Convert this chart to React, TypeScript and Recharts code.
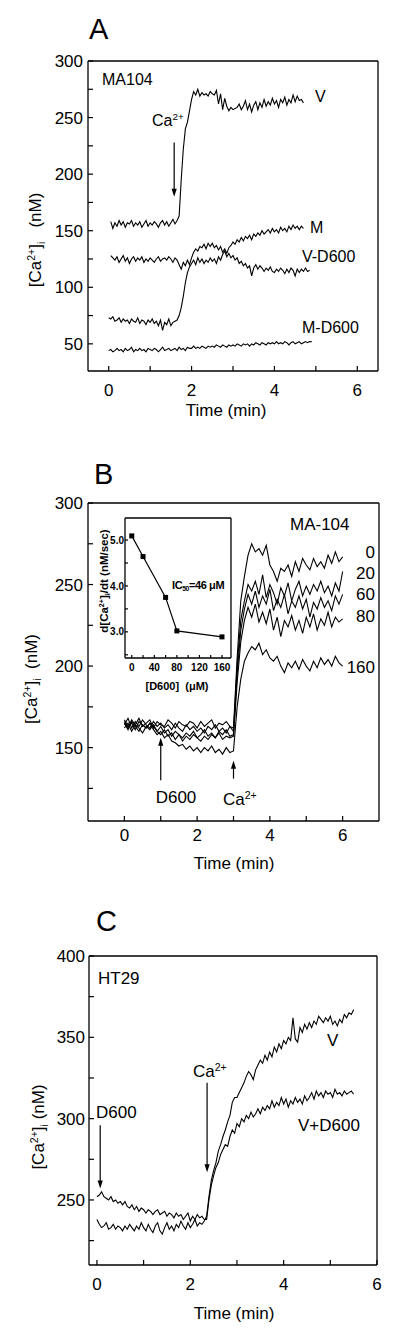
import React from 'react';
import { LineChart, Line, XAxis, YAxis, ReferenceLine } from 'recharts';

const SANS = '"Liberation Sans", Arial, Helvetica, sans-serif';
const NARROW = '"Liberation Sans Narrow", "Arial Narrow", "Liberation Sans", Arial, sans-serif';
const AXIS = { stroke: '#000', strokeWidth: 1.3 };

// ---- panel A: MA104, sampled every 0.05 min ----
const A_STEP = 0.05;
const A_XDOM = [-0.5, 6.5];
const A_YDOM = [26, 300];
const A_XTICKS = [0, 1, 2, 3, 4, 5, 6];
const A_XMAJOR = [0, 2, 4, 6];
const A_YTICKS = [50, 75, 100, 125, 150, 175, 200, 225, 250, 275, 300];
const A_YMAJOR = [50, 100, 150, 200, 250, 300];

const A_V = [
  null,
  158, 152, 157, 154, 159, 155, 158, 153, 157, 156, 159, 154, 157, 155, 158, 153, 156, 159, 154, 157,
  155, 158, 156, 153, 157, 159, 155, 158, 154, 157, 160, 156, 159,
  163, 195, 222, 240, 246, 256, 266, 273, 270, 275, 269, 272, 270, 271, 269, 273, 271, 270, 274, 262,
  271, 257, 267, 260, 256, 259, 257, 258, 259, 262, 257, 260, 265, 257, 262, 255, 261, 264, 257, 263,
  259, 266, 260, 264, 261, 267, 262, 265, 259, 266, 263, 268, 261, 266, 263, 270, 264, 269, 265, 266,
  263, null, null, null, null,
];
const A_M = [
  null,
  128, 126, 124, 127, 122, 125, 128, 123, 126, 121, 125, 127, 123, 126, 124, 127, 122, 125, 123, 126,
  124, 122, 125, 127, 123, 125, 126, 124, 127, 125, 122, 126, 124,
  120, 116, 122, 119, 124, 120, 126, 131, 134, 132, 136, 135, 138, 134, 139, 136, 139, 135, 137, 133,
  136, 131, 134, 130, 135, 137, 140, 138, 142, 140, 144, 141, 145, 143, 146, 142, 147, 145, 148, 146,
  150, 147, 149, 151, 148, 152, 149, 151, 148, 153, 150, 152, 149, 154, 151, 155, 152, 154, 151, 154,
  152, null, null, null, null,
];
const A_VD = [
  73, 72, 74, 70, 71, 73, 69, 72, 70, 71, 68, 72, 70, 69, 73, 68, 71, 70, 67, 71,
  69, 72, 68, 70, 66, 71, 62, 69, 67, 72, 66, 69, 70, 71,
  75, 82, 92, 104, 113, 118, 121, 124, 120, 126, 122, 125, 121, 124, 122, 126, 123, 125, 121, 127,
  124, 129, 132, 127, 130, 126, 128, 124, 126, 121, 123, 119, 121, 117, 119, 110, 117, 120, 116, 119,
  117, 114, 117, 115, 118, 114, 113, 116, 114, 117, 115, 112, 116, 113, 117, 115, 110, 116, 113, 116,
  114, 117, 114, 115, null,
];
const A_MD = [
  44, 45, 43, 44, 46, 44, 45, 43, 46, 44, 45, 47, 43, 45, 44, 46, 44, 45, 43, 46,
  45, 44, 46, 45, 43, 45, 47, 44, 45, 46, 44, 45, 46, 44, 47, 45, 46, 44, 47, 46,
  46, 48, 46, 47, 46, 48, 47, 46, 48, 47, 48, 47, 49, 48, 47, 49, 48, 47, 49, 48,
  49, 48, 50, 49, 48, 50, 49, 50, 48, 50, 49, 51, 50, 49, 51, 50, 49, 51, 50, 51,
  50, 52, 50, 51, 50, 52, 51, 49, 51, 52, 50, 51, 52, 50, 51, 52, 51, 52, 52,
];

// ---- panel B: MA-104 with D600 (0, 20, 60, 80, 160 uM), every 0.1 min ----
const B_STEP = 0.1;
const B_XDOM = [-1, 7];
const B_YDOM = [105, 300];
const B_XTICKS = [0, 1, 2, 3, 4, 5, 6];
const B_XMAJOR = [0, 2, 4, 6];
const B_YTICKS = [125, 150, 175, 200, 225, 250, 275, 300];
const B_YMAJOR = [150, 200, 250, 300];
const B_DOSES = ['0', '20', '60', '80', '160'];

const B_0 = [
  166, 162, 167, 164, 168, 163, 165, 167, 162, 166, 164, 163, 167, 165, 162, 166, 164, 163, 166, 165,
  162, 166, 163, 165, 167, 162, 165, 164, 166, 163, 162,
  205, 240, 255, 268, 275, 270, 272, 268, 274, 262, 258, 252, 260, 258, 262, 255, 264, 258, 266, 262,
  259, 266, 261, 264, 260, 268, 263, 270, 264, 267,
];
const B_20 = [
  164, 168, 162, 166, 163, 167, 164, 162, 166, 163, 165, 162, 164, 161, 165, 162, 160, 164, 161, 163,
  160, 162, 159, 163, 161, 164, 160, 162, 159, 163, 160,
  200, 228, 240, 250, 246, 252, 244, 256, 242, 250, 245, 238, 248, 243, 251, 240, 247, 252, 243, 249,
  244, 250, 246, 252, 245, 249, 243, 251, 246, 258,
];
const B_60 = [
  167, 163, 165, 161, 166, 164, 162, 165, 163, 160, 163, 159, 161, 157, 160, 158, 156, 159, 157, 160,
  156, 158, 161, 157, 159, 156, 160, 158, 161, 157, 158,
  195, 222, 235, 244, 238, 246, 236, 243, 238, 247, 234, 241, 236, 244, 232, 240, 236, 243, 235, 241,
  230, 239, 235, 242, 236, 240, 234, 243, 238, 244,
];
const B_80 = [
  162, 165, 160, 164, 162, 159, 163, 161, 164, 160, 158, 161, 157, 159, 155, 158, 154, 157, 155, 158,
  156, 154, 157, 155, 158, 156, 159, 155, 157, 156, 157,
  190, 215, 228, 236, 230, 238, 227, 233, 226, 235, 222, 230, 218, 228, 224, 231, 222, 228, 220, 230,
  224, 232, 222, 229, 225, 233, 224, 230, 227, 229,
];
const B_160 = [
  165, 161, 166, 163, 160, 164, 162, 165, 161, 158, 160, 156, 158, 154, 153, 151, 152, 149, 151, 148,
  150, 147, 150, 148, 151, 147, 149, 146, 150, 147, 148,
  175, 192, 203, 208, 212, 210, 214, 207, 210, 205, 203, 206, 200, 196, 202, 199, 203, 198, 204, 200,
  197, 203, 199, 205, 201, 204, 200, 206, 202, 200,
];

// inset: initial rate vs [D600]
const IN_D600 = [0, 20, 60, 80, 160];
const IN_RATE = [5.09, 4.64, 3.75, 3.02, 2.89];
const IN_XTICKS = [0, 20, 40, 60, 80, 100, 120, 140, 160];
const IN_XMAJOR = [0, 40, 80, 120, 160];
const IN_YTICKS = [2.5, 3, 3.5, 4, 4.5, 5];
const IN_YMAJOR = [3, 4, 5];

// ---- panel C: HT29, every 0.05 min ----
const C_STEP = 0.05;
const C_XDOM = [-0.17, 6];
const C_YDOM = [210, 400];
const C_XTICKS = [0, 1, 2, 3, 4, 5, 6];
const C_XMAJOR = [0, 2, 4, 6];
const C_YTICKS = [225, 250, 275, 300, 325, 350, 375, 400];
const C_YMAJOR = [250, 300, 350, 400];

const C_V = [
  238, 235, 233, 234, 236, 232, 233, 235, 232, 234, 233, 231, 234, 232, 235, 233, 231, 234, 232, 236,
  233, 231, 235, 232, 230, 234, 236, 231, 229, 233, 236, 232, 234, 231, 235, 233, 237, 234, 232, 236,
  233, 235, 238, 234, 236, 235, 237,
  240, 252, 262, 268, 273, 280, 284, 289, 293, 298, 302, 310, 313, 313, 316, 319, 322, 326, 329, 327,
  324, 330, 333, 336, 334, 339, 336, 341, 338, 344, 341, 346, 343, 348, 346, 350, 348, 362, 349, 347,
  356, 353, 358, 355, 359, 356, 360, 358, 363, 361, 359, 362, 360, 363, 358, 360, 357, 361, 359, 364,
  362, 365, 364, 367,
];
const C_VD = [
  252, 253, 255, 252, 251, 250, 252, 249, 250, 248, 249, 247, 249, 246, 245, 247, 244, 246, 243, 245,
  244, 242, 244, 243, 241, 243, 244, 241, 242, 243, 240, 242, 241, 239, 242, 240, 241, 238, 240, 242,
  237, 240, 238, 241, 239, 240, 238,
  238, 250, 259, 265, 270, 273, 278, 281, 284, 283, 289, 293, 291, 297, 295, 300, 298, 302, 300, 304,
  301, 303, 306, 303, 307, 305, 308, 306, 311, 307, 310, 308, 313, 309, 312, 307, 311, 309, 313, 310,
  312, 309, 314, 311, 313, 316, 312, 317, 314, 316, 313, 317, 315, 316, 313, 318, 315, 316, 314, 317,
  315, 316, 317, 315,
];

const rowsA = A_MD.map((_, i) => ({ t: +(i * A_STEP).toFixed(2), v: A_V[i], m: A_M[i], vd: A_VD[i], md: A_MD[i] }));
const B_SERIES = [B_0, B_20, B_60, B_80, B_160];
const rowsB = B_0.map((_, i) => {
  const r: any = { t: +(i * B_STEP).toFixed(2) };
  B_SERIES.forEach((s, k) => (r['d' + B_DOSES[k]] = s[i]));
  return r;
});
const rowsIn = IN_D600.map((d, i) => ({ d, r: IN_RATE[i] }));
const rowsC = C_V.map((v, i) => ({ t: +(i * C_STEP).toFixed(2), v, vd: C_VD[i] }));

function tickLeft(majors: number[], fs = 17, len = 5, fmt = (v: number) => String(v), family = SANS, weight = 400, gap = 5) {
  return (p: any) => {
    const v = p.payload.value;
    return (
      <g>
        <line x1={p.x} y1={p.y} x2={p.x + len} y2={p.y} stroke="#000" strokeWidth={1.2} />
        {majors.includes(v) && (
          <text x={p.x - gap} y={p.y} dy="0.36em" textAnchor="end" fontFamily={family} fontWeight={weight} fontSize={fs} fill="#000">
            {fmt(v)}
          </text>
        )}
      </g>
    );
  };
}

function tickBottom(majors: number[], off: number, fs = 17, len = 5, family = SANS, weight = 400) {
  return (p: any) => {
    const v = p.payload.value;
    return (
      <g>
        <line x1={p.x} y1={p.y} x2={p.x} y2={p.y - len} stroke="#000" strokeWidth={1.2} />
        {majors.includes(v) && (
          <text x={p.x} y={p.y + off} textAnchor="middle" fontFamily={family} fontWeight={weight} fontSize={fs} fill="#000">
            {v}
          </text>
        )}
      </g>
    );
  };
}

function Arrow(props: any) {
  const { x1, y1, x2, y2 } = props;
  const dir = y2 > y1 ? 1 : -1;
  return (
    <g>
      <line x1={x1} y1={y1} x2={x2} y2={y2 - dir * 5} stroke="#000" strokeWidth={1.2} />
      <polygon points={`${x2},${y2} ${x2 - 2.6},${y2 - dir * 8} ${x2 + 2.6},${y2 - dir * 8}`} fill="#000" />
    </g>
  );
}

function Txt({ x, y, size = 17, anchor = 'start', weight = 400, rotate = false, family = SANS, spacing = 0, children }: any) {
  const tx = anchor === 'middle' ? '-50%' : anchor === 'end' ? '-100%' : '0';
  return (
    <div
      style={{
        position: 'absolute',
        left: x,
        top: y,
        transform: rotate ? 'translate(-50%,-50%) rotate(-90deg)' : `translate(${tx},-50%)`,
        fontFamily: family,
        fontSize: size,
        fontWeight: weight,
        letterSpacing: spacing,
        lineHeight: 1,
        whiteSpace: 'nowrap',
        color: '#000',
      }}
    >
      {children}
    </div>
  );
}

const Sup = ({ children }: any) => (
  <span style={{ fontSize: '0.62em', position: 'relative', top: '-0.6em' }}>{children}</span>
);
const Sub = ({ children }: any) => (
  <span style={{ fontSize: '0.62em', position: 'relative', top: '0.35em' }}>{children}</span>
);
const CaLabel = () => (
  <>
    [Ca<Sup>2+</Sup>]<Sub>i</Sub>
  </>
);

// axes need a size of at least 1px or recharts skips drawing them
const xBottom = (dom: number[], ticks: number[], tick: any, key = 't') => (
  <XAxis type="number" dataKey={key} domain={dom} ticks={ticks} interval={0} allowDataOverflow height={1} tickSize={0} tickMargin={0} tickLine={false} axisLine={AXIS} tick={tick} />
);
const xTop = (dom: number[], key = 't') => (
  <XAxis xAxisId="top" orientation="top" type="number" dataKey={key} domain={dom} allowDataOverflow height={1} tick={false} tickLine={false} axisLine={AXIS} />
);
const yLeft = (dom: number[], ticks: number[], tick: any) => (
  <YAxis type="number" domain={dom} ticks={ticks} interval={0} allowDataOverflow width={1} tickSize={0} tickMargin={0} tickLine={false} axisLine={AXIS} tick={tick} />
);
const yRight = (dom: number[]) => (
  <YAxis yAxisId="right" orientation="right" type="number" domain={dom} allowDataOverflow width={1} tick={false} tickLine={false} axisLine={AXIS} />
);

export default function App() {
  const line = { type: 'linear' as const, stroke: '#000', strokeWidth: 1.1, dot: false, isAnimationActive: false, connectNulls: false };
  return (
    <div style={{ position: 'absolute', left: 0, top: 0, width: 400, height: 1333, background: '#fff', overflow: 'hidden' }}>
      {/* Panel A */}
      <div style={{ position: 'absolute', left: 0, top: 0 }}>
        <LineChart width={400} height={420} data={rowsA} margin={{ top: 60, right: 21, bottom: 48, left: 87 }}>
          {xBottom(A_XDOM, A_XTICKS, tickBottom(A_XMAJOR, 25))}
          {xTop(A_XDOM)}
          {yLeft(A_YDOM, A_YTICKS, tickLeft(A_YMAJOR))}
          {yRight(A_YDOM)}
          <Line {...line} dataKey="v" />
          <Line {...line} dataKey="m" />
          <Line {...line} dataKey="vd" />
          <Line {...line} dataKey="md" />
          <ReferenceLine segment={[{ x: 1.58, y: 228 }, { x: 1.58, y: 180 }]} shape={<Arrow />} />
        </LineChart>
      </div>
      <Txt x={89} y={29} size={29}>A</Txt>
      <Txt x={102} y={80} size={16}>MA104</Txt>
      <Txt x={152} y={121} size={16}>Ca<Sup>2+</Sup></Txt>
      <Txt x={315} y={97} size={16}>V</Txt>
      <Txt x={310} y={228} size={16}>M</Txt>
      <Txt x={302} y={257} size={16}>V-D600</Txt>
      <Txt x={302} y={328} size={16}>M-D600</Txt>
      <Txt x={35} y={240} size={17} rotate><CaLabel />&nbsp;&nbsp;&nbsp;(nM)</Txt>
      <Txt x={226} y={410} size={17} anchor="middle">Time (min)</Txt>

      {/* Panel B */}
      <div style={{ position: 'absolute', left: 0, top: 420 }}>
        <LineChart width={400} height={450} data={rowsB} margin={{ top: 82, right: 20, bottom: 48, left: 87 }}>
          {xBottom(B_XDOM, B_XTICKS, tickBottom(B_XMAJOR, 20))}
          {xTop(B_XDOM)}
          {yLeft(B_YDOM, B_YTICKS, tickLeft(B_YMAJOR))}
          {yRight(B_YDOM)}
          {B_DOSES.map((d) => (
            <Line key={d} {...line} dataKey={'d' + d} />
          ))}
          <ReferenceLine segment={[{ x: 1.0, y: 130 }, { x: 1.0, y: 156 }]} shape={<Arrow />} />
          <ReferenceLine segment={[{ x: 3.0, y: 131 }, { x: 3.0, y: 142 }]} shape={<Arrow />} />
        </LineChart>
      </div>
      {/* inset */}
      <div style={{ position: 'absolute', left: 90, top: 505 }}>
        <LineChart width={150} height={195} data={rowsIn} margin={{ top: 12, right: 8, bottom: 41, left: 34 }}>
          {xBottom([-12, 176], IN_XTICKS, tickBottom(IN_XMAJOR, 13, 10, 3, NARROW, 700), 'd')}
          {xTop([-12, 176], 'd')}
          {yLeft([2.43, 5.48], IN_YTICKS, tickLeft(IN_YMAJOR, 10, 3, (v) => v.toFixed(1), NARROW, 700, 1))}
          {yRight([2.43, 5.48])}
          <Line
            type="linear"
            dataKey="r"
            stroke="#000"
            strokeWidth={1.2}
            isAnimationActive={false}
            dot={(p: any) => <rect key={p.index} x={p.cx - 2.5} y={p.cy - 2.5} width={5} height={5} fill="#000" />}
          />
        </LineChart>
      </div>
      <Txt x={105} y={581} size={11.5} weight={700} family={NARROW} rotate>
        d[Ca<Sup>2+</Sup>]<Sub>i</Sub>/dt (nM/sec)
      </Txt>
      <Txt x={177} y={686} size={11} weight={700} family={NARROW} anchor="middle">[D600]&nbsp;&nbsp;(μM)</Txt>
      <Txt x={172} y={585} size={11} weight={700} family={NARROW} spacing={-0.4}>IC<Sub>50</Sub>=46 μM</Txt>

      <Txt x={94} y={474} size={29}>B</Txt>
      <Txt x={290} y={524} size={17}>MA-104</Txt>
      <Txt x={375} y={552} size={17} anchor="end">0</Txt>
      <Txt x={375} y={573} size={17} anchor="end">20</Txt>
      <Txt x={375} y={594} size={17} anchor="end">60</Txt>
      <Txt x={375} y={616} size={17} anchor="end">80</Txt>
      <Txt x={375} y={667} size={17} anchor="end">160</Txt>
      <Txt x={176} y={797} size={17} anchor="middle">D600</Txt>
      <Txt x={223} y={799} size={17}>Ca<Sup>2+</Sup></Txt>
      <Txt x={31} y={679} size={17} rotate><CaLabel />&nbsp;&nbsp;(nM)</Txt>
      <Txt x={234} y={863} size={17} anchor="middle">Time (min)</Txt>

      {/* Panel C */}
      <div style={{ position: 'absolute', left: 0, top: 870 }}>
        <LineChart width={400} height={463} data={rowsC} margin={{ top: 85, right: 22, bottom: 67, left: 88 }}>
          {xBottom(C_XDOM, C_XTICKS, tickBottom(C_XMAJOR, 25))}
          {xTop(C_XDOM)}
          {yLeft(C_YDOM, C_YTICKS, tickLeft(C_YMAJOR, 17, 5, String, SANS, 400, 4))}
          {yRight(C_YDOM)}
          <Line {...line} dataKey="v" />
          <Line {...line} dataKey="vd" />
          <ReferenceLine segment={[{ x: 0.07, y: 296 }, { x: 0.07, y: 257 }]} shape={<Arrow />} />
          <ReferenceLine segment={[{ x: 2.36, y: 322 }, { x: 2.36, y: 267 }]} shape={<Arrow />} />
        </LineChart>
      </div>
      <Txt x={96} y={921} size={29}>C</Txt>
      <Txt x={98} y={978} size={17}>HT29</Txt>
      <Txt x={96} y={1112} size={17}>D600</Txt>
      <Txt x={193} y={1071} size={17}>Ca<Sup>2+</Sup></Txt>
      <Txt x={327} y={1040} size={17}>V</Txt>
      <Txt x={298} y={1125} size={17}>V+D600</Txt>
      <Txt x={38} y={1127} size={17} rotate><CaLabel /> (nM)</Txt>
      <Txt x={234} y={1313} size={17} anchor="middle">Time (min)</Txt>
    </div>
  );
}
